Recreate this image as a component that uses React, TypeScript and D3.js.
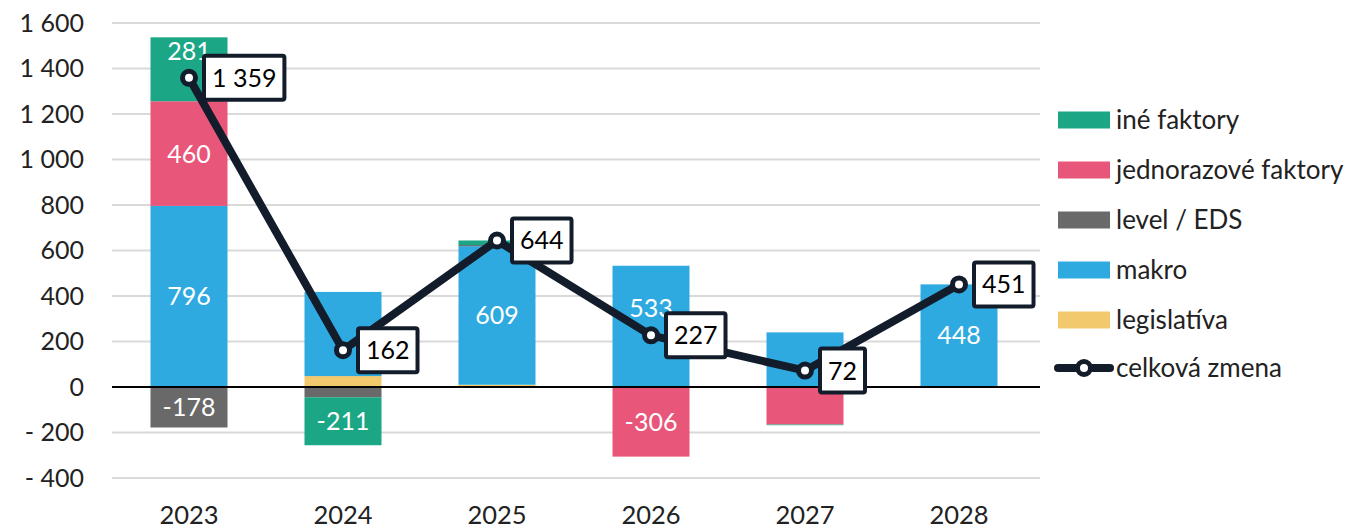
import React, { useEffect, useRef } from "react";
import * as d3 from "d3";

const years = ["2023", "2024", "2025", "2026", "2027", "2028"];
const legislativa = [0, 48, 10, 0, 0, 3];
const makro = [796, 370, 609, 533, 240, 448];
const levelEds = [-178, -45, 5, 0, 0, 0];
const jednorazove = [460, 0, 0, -306, -165, 0];
const ineFaktory = [281, -211, 20, 0, -3, 0];
const celkovaZmena = [1359, 162, 644, 227, 72, 451];
const yTicks = [-400, -200, 0, 200, 400, 600, 800, 1000, 1200, 1400, 1600];
// which segment labels are shown (Excel hides some)
const shownLabels: Record<string, number[]> = {
  "iné faktory": [0, 1],
  "jednorazové faktory": [0, 3],
  "level / EDS": [0],
  makro: [0, 2, 3, 5],
  legislatíva: [],
};

const seriesDefs = [
  { key: "legislatíva", values: legislativa, color: "#f2c96d" },
  { key: "makro", values: makro, color: "#2eaae1" },
  { key: "level / EDS", values: levelEds, color: "#696969" },
  { key: "jednorazové faktory", values: jednorazove, color: "#e85679" },
  { key: "iné faktory", values: ineFaktory, color: "#1ba685" },
];
const LINE = "#131c2b";
const FONT = "Lato, 'Open Sans', sans-serif";
const fmt = (v: number) => {
  const s = Math.abs(v).toString().replace(/\B(?=(\d{3})+(?!\d))/g, " ");
  return v < 0 ? "- " + s : s;
};

export default function App() {
  const ref = useRef<SVGSVGElement>(null);
  useEffect(() => {
    const svg = d3.select(ref.current);
    svg.selectAll("*").remove();
    const left = 112, right = 1036, top = 23, bottom = 478;
    const x = d3.scaleBand().domain(years).range([left, right]).paddingInner(0.5).paddingOuter(0.25);
    const y = d3.scaleLinear().domain([-400, 1600]).range([bottom, top]);

    // grid
    svg.append("g").selectAll("line").data(yTicks.filter((t) => t !== 0)).join("line")
      .attr("x1", left).attr("x2", 1040).attr("y1", (d) => y(d)).attr("y2", (d) => y(d))
      .attr("stroke", "#d9d9d9").attr("stroke-width", 2);
    svg.append("g").selectAll("text").data(yTicks).join("text")
      .attr("x", 84).attr("y", (d) => y(d)).attr("dy", "0.35em").attr("text-anchor", "end")
      .attr("font-family", FONT).attr("font-size", 25).attr("fill", "#222")
      .text((d) => fmt(d));

    // stack
    const table = years.map((yr, i) => {
      const o: any = { year: yr };
      seriesDefs.forEach((s) => (o[s.key] = s.values[i]));
      return o;
    });
    const stack = d3.stack<any>().keys(seriesDefs.map((s) => s.key)).offset(d3.stackOffsetDiverging);
    const layers = stack(table);
    const bw = x.bandwidth();
    layers.forEach((layer, li) => {
      const def = seriesDefs[li];
      svg.append("g").selectAll("rect").data(layer).join("rect")
        .attr("x", (d: any) => x(d.data.year)!)
        .attr("width", bw)
        .attr("y", (d) => y(Math.max(d[0], d[1])))
        .attr("height", (d) => Math.abs(y(d[0]) - y(d[1])))
        .attr("fill", def.color);
    });

    // zero line
    svg.append("line").attr("x1", left).attr("x2", 1040).attr("y1", y(0)).attr("y2", y(0))
      .attr("stroke", "#000").attr("stroke-width", 2);

    // segment labels
    layers.forEach((layer, li) => {
      const def = seriesDefs[li];
      const show = shownLabels[def.key];
      layer.forEach((d: any, i) => {
        if (!show.includes(i)) return;
        let cy = (y(d[0]) + y(d[1])) / 2;
        const ty = y(celkovaZmena[i]);
        if (Math.abs(cy - ty) < 30) cy = ty - 27;
        svg.append("text").attr("x", x(years[i])! + bw / 2).attr("y", cy).attr("dy", "0.36em")
          .attr("text-anchor", "middle").attr("font-family", FONT).attr("font-size", 25)
          .attr("fill", "#fff").text(def.values[i].toString());
      });
    });

    // total line
    const line = d3.line<number>().x((_, i) => x(years[i])! + bw / 2).y((d) => y(d));
    svg.append("path").datum(celkovaZmena).attr("d", line).attr("fill", "none")
      .attr("stroke", LINE).attr("stroke-width", 8).attr("stroke-linejoin", "round");
    svg.append("g").selectAll("circle").data(celkovaZmena).join("circle")
      .attr("cx", (_, i) => x(years[i])! + bw / 2).attr("cy", (d) => y(d)).attr("r", 6.5)
      .attr("fill", "#fff").attr("stroke", LINE).attr("stroke-width", 5);

    // total labels
    celkovaZmena.forEach((v, i) => {
      const px = x(years[i])! + bw / 2 + 15;
      const py = y(v);
      const g = svg.append("g");
      const rect = g.append("rect");
      const t = g.append("text").attr("x", px + 8).attr("y", py).attr("dy", "0.36em")
        .attr("font-family", FONT).attr("font-size", 25).attr("fill", "#000").text(fmt(v));
      const w = (t.node() as SVGTextElement).getComputedTextLength();
      rect.attr("x", px).attr("y", py - 22).attr("width", w + 16).attr("height", 44)
        .attr("fill", "#fff").attr("stroke", LINE).attr("stroke-width", 4).attr("rx", 2);
    });

    // x labels
    svg.append("g").selectAll("text").data(years).join("text")
      .attr("x", (d) => x(d)! + bw / 2).attr("y", 515).attr("dy", "0.36em").attr("text-anchor", "middle")
      .attr("font-family", FONT).attr("font-size", 25.5).attr("fill", "#222").text((d) => d);

    // legend
    const legendItems = [...seriesDefs].reverse();
    legendItems.forEach((s, i) => {
      const ly = 120 + i * 50;
      svg.append("rect").attr("x", 1058).attr("y", ly - 8.5).attr("width", 52).attr("height", 17).attr("fill", s.color);
      svg.append("text").attr("x", 1116).attr("y", ly).attr("dy", "0.36em").attr("font-family", FONT)
        .attr("font-size", 26).attr("fill", "#222").text(s.key);
    });
    const ly = 120 + 5 * 50 - 2;
    svg.append("line").attr("x1", 1058).attr("x2", 1110).attr("y1", ly).attr("y2", ly)
      .attr("stroke", LINE).attr("stroke-width", 8).attr("stroke-linecap", "round");
    svg.append("circle").attr("cx", 1084).attr("cy", ly).attr("r", 6.5).attr("fill", "#fff")
      .attr("stroke", LINE).attr("stroke-width", 5);
    svg.append("text").attr("x", 1116).attr("y", ly).attr("dy", "0.36em").attr("font-family", FONT)
      .attr("font-size", 26).attr("fill", "#222").text("celková zmena");
  }, []);
  return (
    <svg ref={ref} width={1355} height={527}
      style={{ position: "absolute", left: 0, top: 0, background: "#fff" }} />
  );
}
